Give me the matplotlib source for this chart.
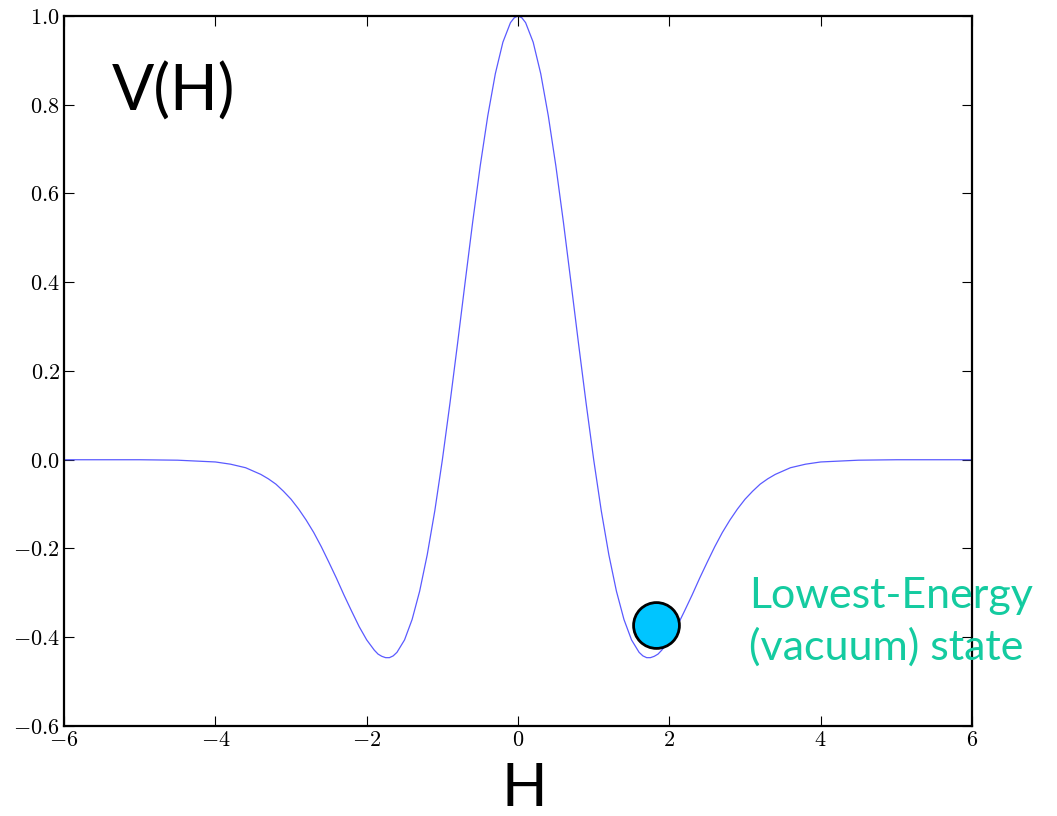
import numpy as np
import matplotlib
matplotlib.use("Agg")
import matplotlib.pyplot as plt
from matplotlib.ticker import FuncFormatter

# potential curve, values
h_vals = [-6.0, -5.0, -4.5, -4.0, -3.8, -3.6, -3.4, -3.3, -3.2, -3.1, -3.0,
          -2.9, -2.8, -2.7, -2.6, -2.5, -2.4, -2.3, -2.2, -2.1, -2.0,
          -1.9, -1.85, -1.8, -1.75, -1.7, -1.65, -1.6, -1.5, -1.4, -1.3, -1.2, -1.1, -1.0,
          -0.9, -0.8, -0.7, -0.6, -0.5, -0.4, -0.3, -0.2, -0.1, -0.05, 0.0,
          0.05, 0.1, 0.2, 0.3, 0.4, 0.5, 0.6, 0.7, 0.8, 0.9, 1.0,
          1.1, 1.2, 1.3, 1.4, 1.5, 1.6, 1.65, 1.7, 1.75, 1.8, 1.85, 1.9, 2.0,
          2.1, 2.2, 2.3, 2.4, 2.5, 2.6, 2.7, 2.8, 2.9, 3.0,
          3.1, 3.2, 3.3, 3.4, 3.6, 3.8, 4.0, 4.5, 5.0, 6.0]
v_vals = [0.0, 0.0, -0.001, -0.005, -0.010, -0.018, -0.033, -0.043, -0.055, -0.071, -0.089,
          -0.111, -0.136, -0.164, -0.196, -0.231, -0.267, -0.305, -0.341, -0.376, -0.406,
          -0.429, -0.438, -0.443, -0.446, -0.446, -0.442, -0.434, -0.406, -0.360, -0.296, -0.214, -0.115, 0.0,
          0.127, 0.261, 0.399, 0.535, 0.662, 0.775, 0.870, 0.941, 0.985, 0.996, 1.0,
          0.996, 0.985, 0.941, 0.870, 0.775, 0.662, 0.535, 0.399, 0.261, 0.127, 0.0,
          -0.115, -0.214, -0.296, -0.360, -0.406, -0.434, -0.442, -0.446, -0.446, -0.443, -0.438, -0.429, -0.406,
          -0.376, -0.341, -0.305, -0.267, -0.231, -0.196, -0.164, -0.136, -0.111, -0.089,
          -0.071, -0.055, -0.043, -0.033, -0.018, -0.010, -0.005, -0.001, 0.0, 0.0]

# the ball sitting in the well
ball_h = [1.82]
ball_v = [-0.372]

x_ticks = [-6, -4, -2, 0, 2, 4, 6]
y_ticks = [-0.6, -0.4, -0.2, 0.0, 0.2, 0.4, 0.6, 0.8, 1.0]

plt.rcParams['mathtext.fontset'] = 'cm'

fig = plt.figure(figsize=(10.57, 8.16), dpi=100)
ax = fig.add_axes([0.0606, 0.1103, 0.859, 0.8701])

ax.plot(h_vals, v_vals, color='#5a5aff', linewidth=0.9)
ax.plot(ball_h, ball_v, 'o', markersize=33, markerfacecolor='#00c5ff',
        markeredgecolor='black', markeredgewidth=2.0, clip_on=False)

ax.set_xlim(-6, 6)
ax.set_ylim(-0.6, 1.0)
ax.set_xticks(x_ticks)
ax.set_yticks(y_ticks)
ax.xaxis.set_major_formatter(FuncFormatter(lambda v, p: r'$%d$' % v))
ax.yaxis.set_major_formatter(FuncFormatter(lambda v, p: r'$%.1f$' % v))
ax.tick_params(direction='in', length=7, width=0.8, top=True, right=True,
               labelsize=16, pad=3)
for s in ax.spines.values():
    s.set_linewidth(1.6)

fig.text(0.106, 0.865, 'V(H)', fontsize=45, family='Lato', ha='left', va='baseline')
fig.text(0.496, 0.012, 'H', fontsize=43, family='Lato', ha='center', va='baseline')
fig.text(0.709, 0.255, 'Lowest-Energy', fontsize=31, family='Lato', color='#14cba0',
         ha='left', va='baseline')
fig.text(0.709, 0.191, '(vacuum) state', fontsize=31, family='Lato', color='#14cba0',
         ha='left', va='baseline')

fig.savefig('out.png', dpi=100)
